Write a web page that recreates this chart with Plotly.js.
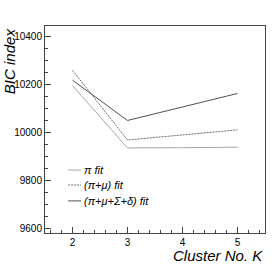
<!DOCTYPE html>
<html><head><meta charset="utf-8">
<script src="https://cdn.plot.ly/plotly-3.0.1.min.js"></script>
<style>html,body{margin:0;padding:0;background:#fff}#chart{width:276px;height:266px}</style>
</head><body><div id="chart"></div>
<script>
const clusters = [2, 3, 4, 5];
const piFit = [10195, 9936, 9937, 9939];
const piMuFit = [10258, 9969, 9990, 10011];
const allFit = [10217, 10050, 10106, 10162];
const legendLabels = ['\u03c0 fit', '(\u03c0+\u03bc) fit', '(\u03c0+\u03bc+\u03a3+\u03b4) fit'];
const yTicks = [9600, 9800, 10000, 10200, 10400];
const xTicks = [2, 3, 4, 5];

const styles = [
  {color:'#a8a8a8', dash:'solid'},
  {color:'#6a6a6a', dash:'2px,1px'},
  {color:'#505050', dash:'solid'}
];
const series = [piFit, piMuFit, allFit];
const traces = series.map((s,i)=>({
  x: clusters, y: s, type:'scatter', mode:'lines',
  line:{color:styles[i].color, width:1, dash:styles[i].dash},
  showlegend:false, hoverinfo:'skip'
}));

const font = {family:'Liberation Sans, Arial, sans-serif', color:'#000'};
const legY = [0.304, 0.232, 0.155];
const shapes = legY.map((y,i)=>({
  type:'line', xref:'paper', yref:'paper', x0:0.105, x1:0.164, y0:y, y1:y,
  line:{color:styles[i].color, width:1, dash:styles[i].dash}
}));
const annotations = legY.map((y,i)=>({
  xref:'paper', yref:'paper', x:0.168, y:y, xanchor:'left', yanchor:'middle',
  text:legendLabels[i], showarrow:false,
  font:Object.assign({}, font, {size:11, style:'italic'})
}));
annotations.push({
  xref:'paper', yref:'paper', x:-0.163, y:1.0, xanchor:'center', yanchor:'top',
  textangle:-90, text:'BIC index', showarrow:false,
  font:Object.assign({}, font, {size:15, style:'italic'})
});
annotations.push({
  xref:'paper', yref:'paper', x:1.0, y:-0.111, xanchor:'right', yanchor:'middle',
  text:'Cluster No. K', showarrow:false,
  font:Object.assign({}, font, {size:15, style:'italic'})
});

const layout = {
  width:276, height:266,
  margin:{l:45, r:11, t:26, b:33},
  paper_bgcolor:'#fff', plot_bgcolor:'#fff',
  font:Object.assign({}, font, {size:10}),
  xaxis:{
    range:[1.5, 5.5], tickvals:xTicks, ticktext:xTicks.map(String),
    ticks:'inside', ticklen:6, tickcolor:'#444', showgrid:false, zeroline:false,
    showline:true, linecolor:'#444', linewidth:1, mirror:true,
    minor:{dtick:0.2, tick0:0, ticks:'inside', ticklen:3, tickcolor:'#444', showgrid:false},
    tickfont:Object.assign({}, font, {size:10})
  },
  yaxis:{
    range:[9583, 10442], tickvals:yTicks, ticktext:yTicks.map(String),
    ticks:'inside', ticklen:6, tickcolor:'#444', showgrid:false, zeroline:false,
    showline:true, linecolor:'#444', linewidth:1, mirror:true,
    minor:{dtick:50, tick0:0, ticks:'inside', ticklen:3, tickcolor:'#444', showgrid:false},
    tickfont:Object.assign({}, font, {size:10})
  },
  shapes:shapes, annotations:annotations
};
Plotly.newPlot('chart', traces, layout, {staticPlot:true, displayModeBar:false});
</script></body></html>
